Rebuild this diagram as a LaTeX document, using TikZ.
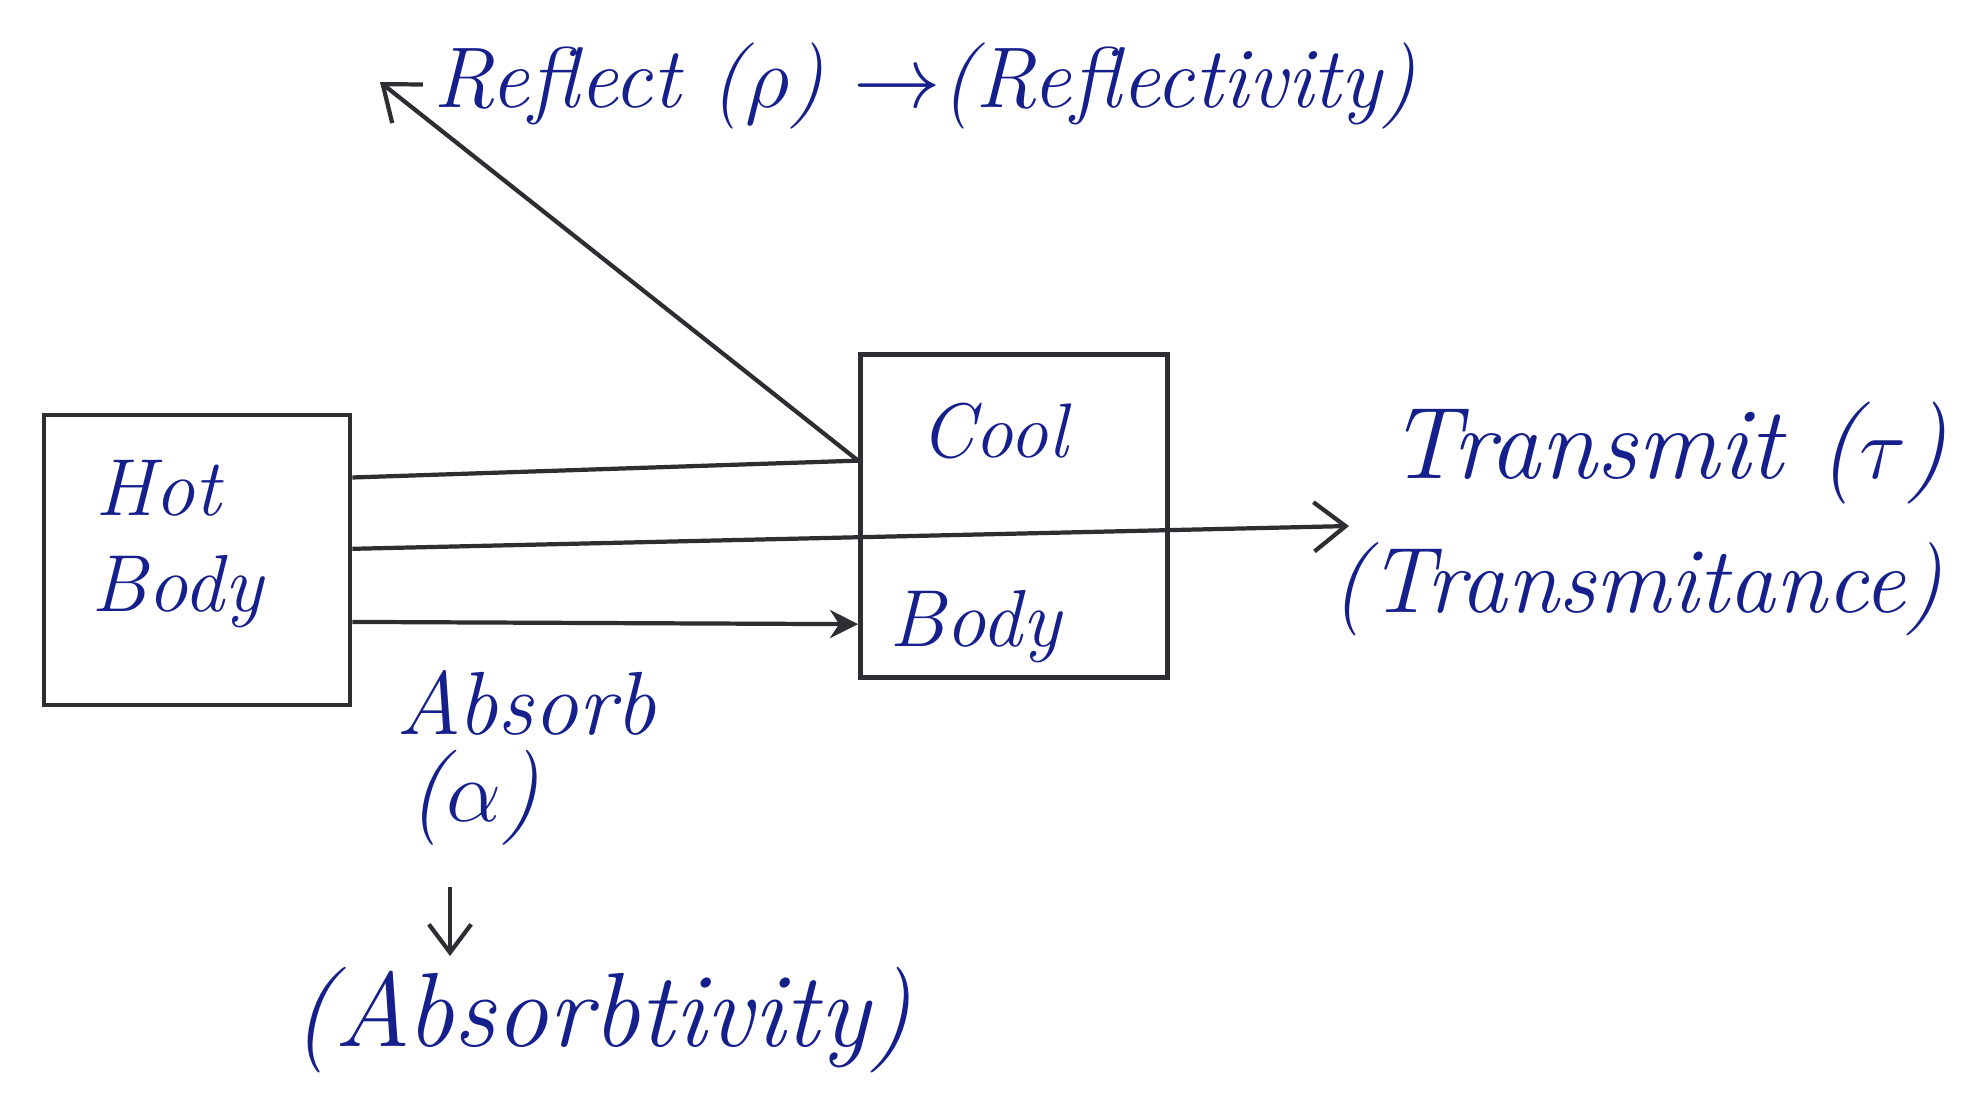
\documentclass[tikz,border=0pt]{standalone}
\usepackage{fontspec}
\usetikzlibrary{arrows.meta}
\definecolor{ink}{RGB}{22,32,140}
\definecolor{pencil}{RGB}{45,45,50}
\tikzset{
  box/.style={draw=pencil, line width=1.3pt, rectangle, inner sep=0pt},
  hand/.style={text=ink, font=\itshape\fontsize{#1}{#1}\selectfont, inner sep=0pt, anchor=center},
  ray/.style={draw=pencil, line width=1.2pt},
  rayarrow/.style={ray, -{Straight Barb[length=9pt,width=14pt,line width=1.2pt]}},
  hitarrow/.style={ray, -{Stealth[length=8pt,width=8pt]}}
}
\begin{document}
\begin{tikzpicture}[x=0.01cm,y=-0.01cm]
\useasboundingbox[fill=white] (0,0) rectangle (1986,1099);
% boxes
\node[box, minimum width=3.06cm, minimum height=2.90cm] (hot) at (197,560) {};
\node[box, minimum width=3.07cm, minimum height=3.23cm] (cool) at (1014,516) {};
% labels in boxes
\node[hand=23] (hotA) at (158,488) {Hot};
\node[hand=23] (hotB) at (177,592) {Body};
\node[hand=22] (coolA) at (994,431) {Cool};
\node[hand=23] (coolB) at (975,627) {Body};
% edge points
\path (hot.north east) -- (hot.south east) coordinate[pos=0.22] (h1) coordinate[pos=0.462] (h2) coordinate[pos=0.71] (h3);
\path (cool.north west) -- (cool.south west) coordinate[pos=0.331] (c1) coordinate[pos=0.83] (c3);
\coordinate (refl) at (380,82);
\coordinate (trans) at (1349,526);
% rays
\draw[ray] (h1) -- (c1);
\draw[rayarrow] (c1) -- (refl);
\draw[rayarrow] (h2) -- (trans);
\draw[hitarrow] (h3) -- (c3);
% outside labels
\node[hand=24.5] (refltxt) at (925,86) {Reflect ($\rho$) $\rightarrow$(Reflectivity)};
\node[hand=29] (transA) at (1668,453) {Transmit ($\tau$)};
\node[hand=26.5] (transB) at (1637,589) {(Transmitance)};
\node[hand=25.5] (absA) at (526,703) {Absorb};
\node[hand=27] (absB) at (474,798) {($\alpha$)};
\node[hand=30] (absC) at (602,1020) {(Absorbtivity)};
\coordinate (dtop) at (450,887);
\coordinate (dbot) at (450,956);
\draw[ray, -{Straight Barb[length=8pt,width=12pt,line width=1.2pt]}] (dtop) -- (dbot);
\end{tikzpicture}
\end{document}
